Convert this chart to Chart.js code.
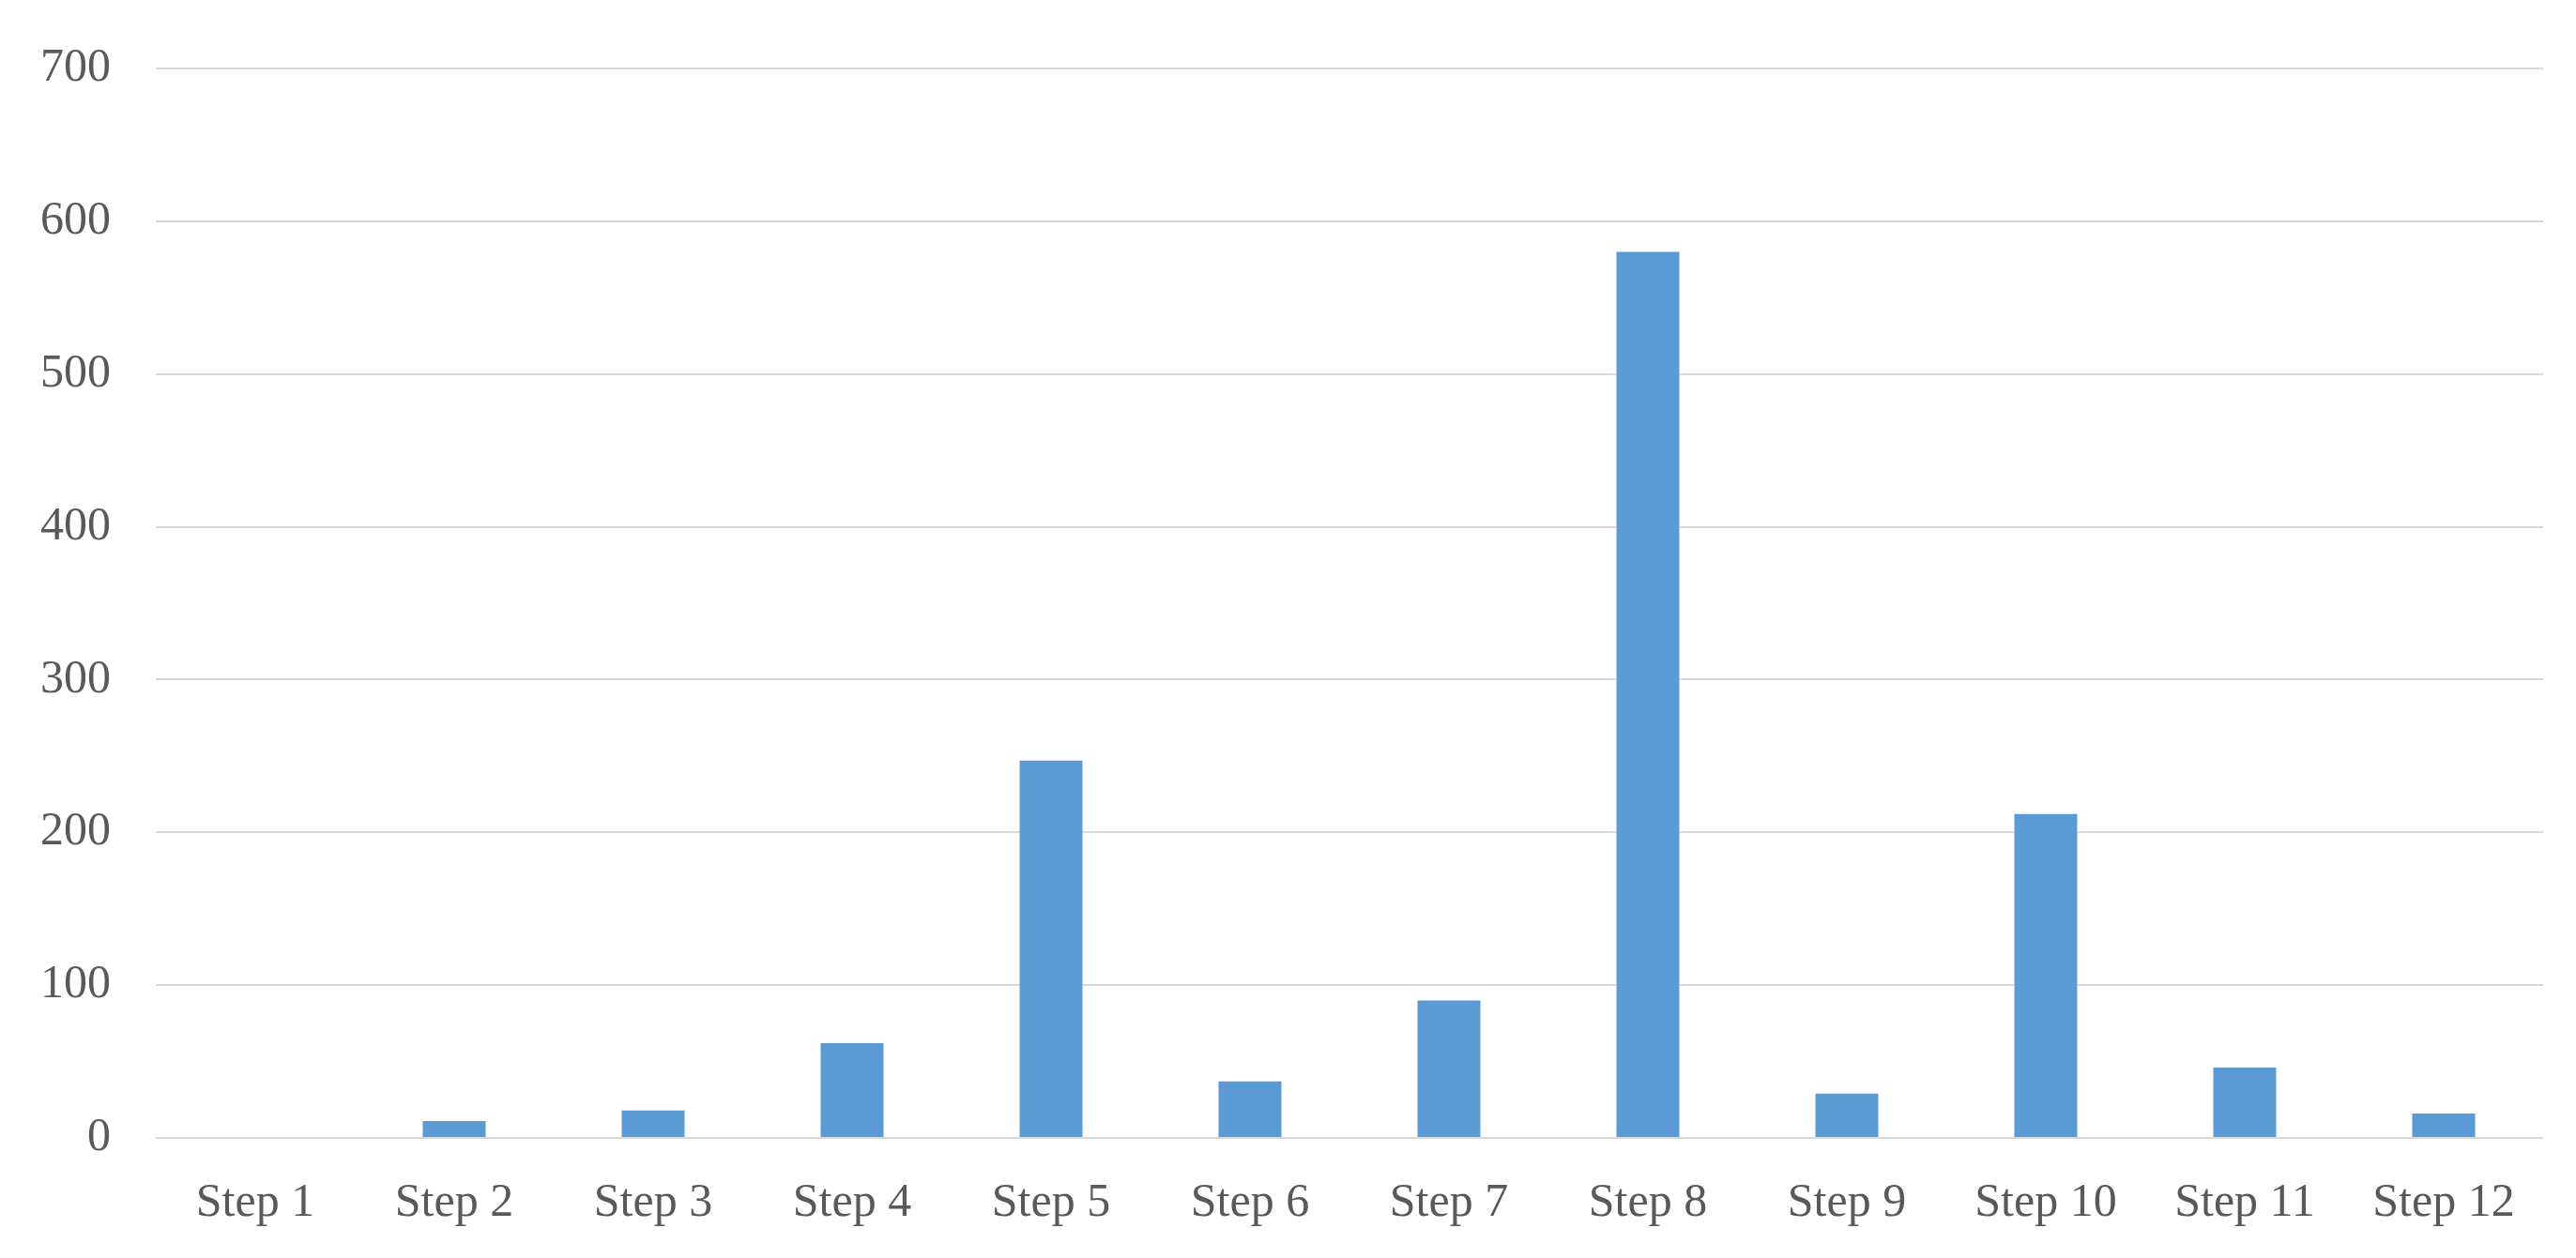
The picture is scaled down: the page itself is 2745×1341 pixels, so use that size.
<!DOCTYPE html>
<html>
<head>
<meta charset="utf-8">
<script src="https://cdn.jsdelivr.net/npm/chart.js@4"></script>
<style>
  html, body { margin: 0; padding: 0; background: #ffffff; }
  #wrap { width: 2745px; height: 1341px; }
</style>
</head>
<body>
<div id="wrap"><canvas id="stepChart" width="2745" height="1341"></canvas></div>
<script>
// Chart data
const stepLabels = ['Step 1', 'Step 2', 'Step 3', 'Step 4', 'Step 5', 'Step 6',
                    'Step 7', 'Step 8', 'Step 9', 'Step 10', 'Step 11', 'Step 12'];
const stepValues = [0, 11, 18, 62, 247, 37, 90, 580, 29, 212, 46, 16];
const yTicks = [0, 100, 200, 300, 400, 500, 600, 700];

const textColor = '#595959';
const gridColor = '#d9d9d9';
const labelFont = { family: "'Liberation Serif', 'DejaVu Serif', serif", size: 50 };

const ctx = document.getElementById('stepChart').getContext('2d');
new Chart(ctx, {
    type: 'bar',
    data: {
        labels: stepLabels,
        datasets: [{
            data: stepValues,
            backgroundColor: '#5b9bd5',
            borderWidth: 0,
            categoryPercentage: 1.0,
            barPercentage: 0.316
        }]
    },
    options: {
        responsive: false,
        animation: false,
        layout: { padding: { top: 0, right: 35, bottom: 0, left: 0 } },
        plugins: {
            legend: { display: false },
            tooltip: { enabled: false }
        },
        scales: {
            y: {
                min: 0,
                max: 700,
                afterBuildTicks: (scale) => {
                    scale.ticks = yTicks.map(v => ({ value: v }));
                },
                afterFit: (scale) => { scale.width = 166; },
                // tick padding also pads the top of the plot: 25 + 48 puts 700 at y=73
                ticks: { color: textColor, font: { ...labelFont, lineHeight: 1 }, padding: 48 },
                grid: { color: gridColor, lineWidth: 2, drawTicks: false },
                border: { display: false }
            },
            x: {
                afterFit: (scale) => { scale.height = 128; },
                ticks: { color: textColor, font: labelFont, padding: 40, maxRotation: 0, autoSkip: false },
                grid: { display: false, drawTicks: false },
                border: { display: false }
            }
        }
    }
});
</script>
</body>
</html>
